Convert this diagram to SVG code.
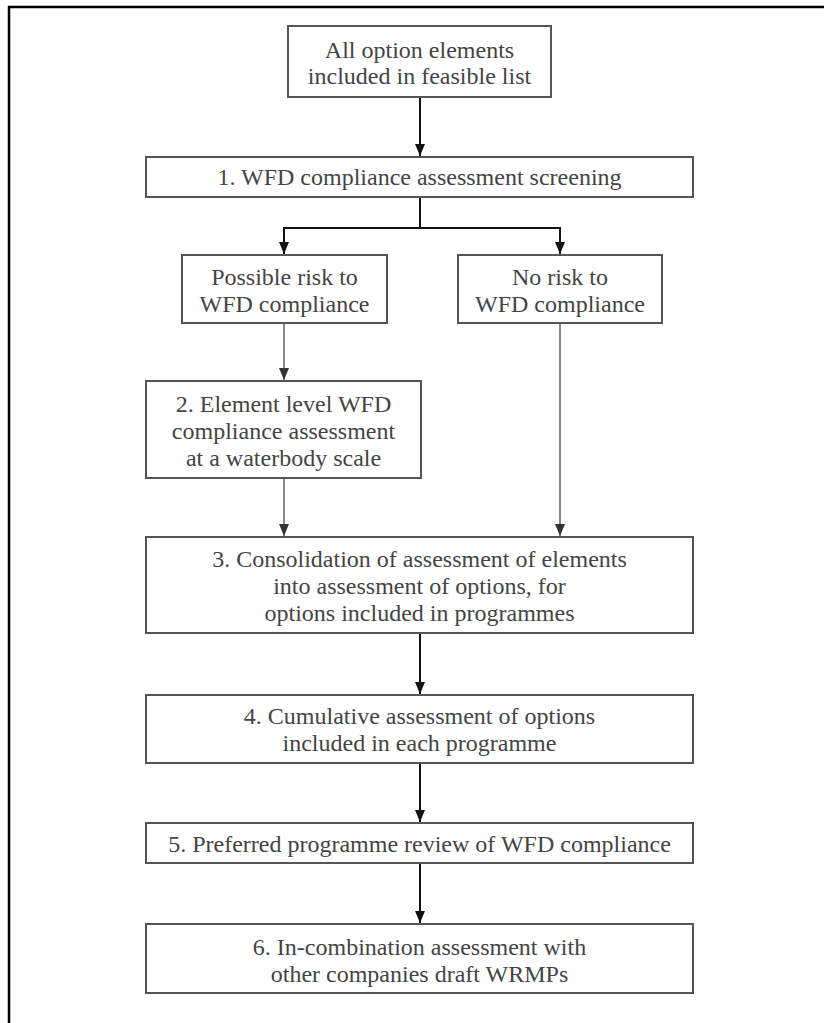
<svg xmlns="http://www.w3.org/2000/svg" width="824" height="1023" viewBox="0 0 824 1023">
<style>
.box{fill:#fff;stroke:#555;stroke-width:2}
.t{font-family:"Liberation Serif","Times New Roman",serif;font-size:24px;fill:#444;text-anchor:middle}
.c{fill:none;stroke:#111;stroke-width:2}
.g{fill:none;stroke:#888;stroke-width:2}
</style>
<defs>
<marker id="ab" markerUnits="userSpaceOnUse" markerWidth="12" markerHeight="12" viewBox="0 0 12 12" refX="6" refY="12" orient="auto-start-reverse">
<path d="M1,0 L11,0 L6,12 Z" fill="#111" transform="rotate(0)"/>
</marker>
<marker id="ag" markerUnits="userSpaceOnUse" markerWidth="12" markerHeight="12" viewBox="0 0 12 12" refX="6" refY="12" orient="0">
<path d="M1,0 L11,0 L6,12 Z" fill="#333"/>
</marker>
<marker id="ab2" markerUnits="userSpaceOnUse" markerWidth="12" markerHeight="12" viewBox="0 0 12 12" refX="6" refY="12" orient="0">
<path d="M1,0 L11,0 L6,12 Z" fill="#111"/>
</marker>
</defs>
<rect x="0" y="0" width="824" height="1023" fill="#fff"/>
<path d="M9,1023 V7 H824" fill="none" stroke="#000" stroke-width="2.5"/>

<g id="connectors">
<line class="c" x1="420" y1="97" x2="420" y2="156" marker-end="url(#ab2)"/>
<polyline class="c" points="420,197 420,228 284,228 284,254" marker-end="url(#ab2)"/>
<polyline class="c" points="420,228 560,228 560,254" marker-end="url(#ab2)"/>
<line class="g" x1="284" y1="323" x2="284" y2="380" marker-end="url(#ag)"/>
<line class="g" x1="284" y1="478" x2="284" y2="536" marker-end="url(#ag)"/>
<line class="g" x1="560" y1="323" x2="560" y2="536" marker-end="url(#ag)"/>
<line class="c" x1="420" y1="633" x2="420" y2="694" marker-end="url(#ab2)"/>
<line class="c" x1="420" y1="763" x2="420" y2="822" marker-end="url(#ab2)"/>
<line class="c" x1="420" y1="863" x2="420" y2="923" marker-end="url(#ab2)"/>
</g>

<g id="n0">
<rect class="box" x="288" y="26" width="263" height="71"/>
<text class="t" x="419.5" y="58">All option elements</text>
<text class="t" x="419.5" y="84">included in feasible list</text>
</g>
<g id="n1">
<rect class="box" x="146" y="157" width="547" height="40"/>
<text class="t" x="419.5" y="185">1. WFD compliance assessment screening</text>
</g>
<g id="n_possible">
<rect class="box" x="182" y="255" width="205" height="68"/>
<text class="t" x="284.5" y="285">Possible risk to</text>
<text class="t" x="284.5" y="312">WFD compliance</text>
</g>
<g id="n_norisk">
<rect class="box" x="458" y="255" width="204" height="68"/>
<text class="t" x="560" y="285">No risk to</text>
<text class="t" x="560" y="312">WFD compliance</text>
</g>
<g id="n2">
<rect class="box" x="146" y="381" width="275" height="97"/>
<text class="t" x="283.5" y="412">2. Element level WFD</text>
<text class="t" x="283.5" y="439">compliance assessment</text>
<text class="t" x="283.5" y="466">at a waterbody scale</text>
</g>
<g id="n3">
<rect class="box" x="146" y="537" width="547" height="96"/>
<text class="t" x="419.5" y="567">3. Consolidation of assessment of elements</text>
<text class="t" x="419.5" y="594">into assessment of options, for</text>
<text class="t" x="419.5" y="621">options included in programmes</text>
</g>
<g id="n4">
<rect class="box" x="146" y="695" width="547" height="68"/>
<text class="t" x="419.5" y="724">4. Cumulative assessment of options</text>
<text class="t" x="419.5" y="751">included in each programme</text>
</g>
<g id="n5">
<rect class="box" x="146" y="823" width="547" height="40"/>
<text class="t" x="419.5" y="852">5. Preferred programme review of WFD compliance</text>
</g>
<g id="n6">
<rect class="box" x="146" y="924" width="547" height="69"/>
<text class="t" x="419.5" y="955">6. In-combination assessment with</text>
<text class="t" x="419.5" y="982">other companies draft WRMPs</text>
</g>
</svg>
